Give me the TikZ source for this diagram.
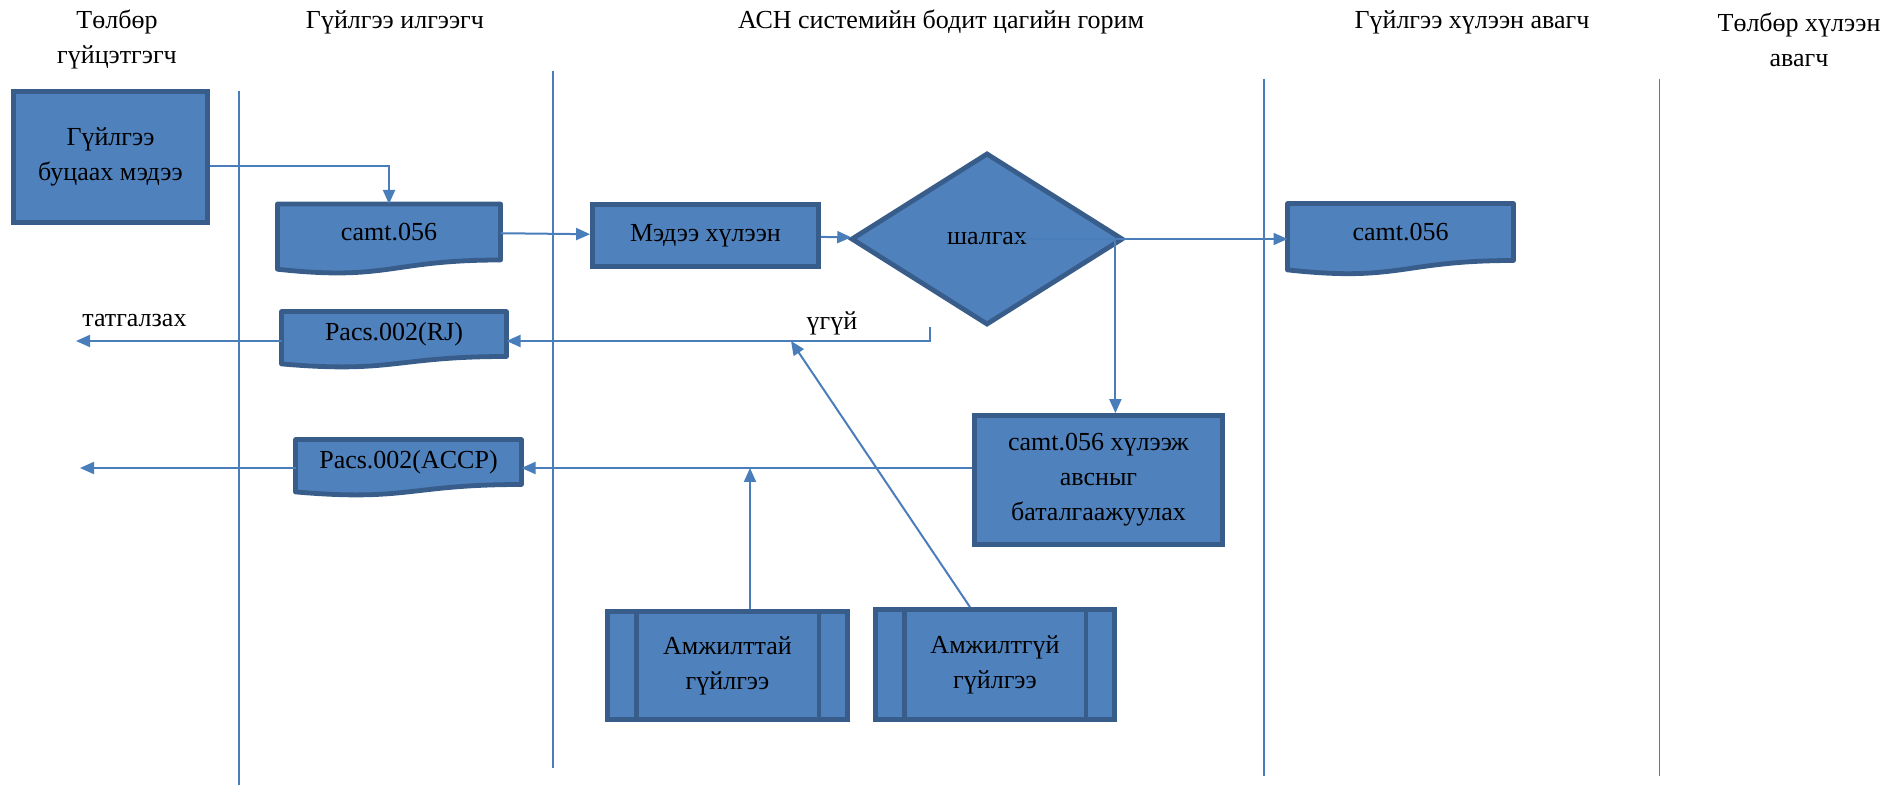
\documentclass[tikz,border=0pt]{standalone}
\usepackage{fontspec}
\setmainfont{Liberation Serif}
\usetikzlibrary{shapes.geometric,arrows.meta,calc,backgrounds}

\definecolor{boxfill}{HTML}{4F81BD}
\definecolor{boxline}{HTML}{385D8A}
\definecolor{linkblue}{HTML}{4A7EBB}

\begin{document}
\begin{tikzpicture}[
  x=0.5pt,
  y=-0.5pt,
  font=\fontsize{13}{17.5}\selectfont,
  box node/.style={
    draw=boxline,
    fill=boxfill,
    line width=2.4pt,
    align=center,
    inner sep=0pt,
  },
  doc node/.style={
    align=center,
    inner sep=0pt,
    outer sep=0pt,
  },
  check node/.style={
    box node,
    diamond,
    aspect=1.6,
  },
  title node/.style={align=center},
  doc outline/.style={draw=boxline,fill=boxfill,line width=2.4pt,line join=round},
  lane line/.style={draw=linkblue,line width=0.9pt},
  ]
  \useasboundingbox (0,0) rectangle (1901,785);
  \foreach \x/\ya/\yb in {239/91/785,553/71/768,1264/79/776,1659.5/79/776}
    \path[lane line] (\x,\ya) -- (\x,\yb);

  \node[title node] (title-payer)    at (117,39.5)  {Төлбөр\\гүйцэтгэгч};
  \node[title node] (title-sender)   at (395,22)    {Гүйлгээ илгээгч};
  \node[title node] (title-ach)      at (941,22)    {АСН системийн бодит цагийн горим};
  \node[title node] (title-receiver) at (1472,22)   {Гүйлгээ хүлээн авагч};
  \node[title node] (title-payee)    at (1799,39.5) {Төлбөр хүлээн\\авагч};

  \node[box node,minimum width=97pt,minimum height=65.5pt]    (refund)        at (110.5,157)   {Гүйлгээ\\буцаах мэдээ};
  \node[doc node,minimum width=111.5pt,minimum height=28pt]   (sender-camt)   at (389,232)     {camt.056};
  \node[box node,minimum width=113pt,minimum height=31pt]     (ach-receive)   at (705.5,235.5) {Мэдээ хүлээн};
  \node[check node,minimum width=136pt,minimum height=86pt]   (ach-check)     at (987,239)     {шалгах};
  \node[doc node,minimum width=113pt,minimum height=28.5pt]   (receiver-camt) at (1400.5,232)  {camt.056};
  \node[doc node,minimum width=112.5pt,minimum height=22.5pt] (sender-rj)     at (394,334)     {Pacs.002(RJ)};
  \node[doc node,minimum width=113pt,minimum height=22.5pt]   (sender-accp)   at (408.5,462)   {Pacs.002(ACCP)};
  \node[box node,minimum width=124pt,minimum height=64.5pt]   (ach-confirm)   at (1098.5,480)  {camt.056 хүлээж\\авсныг\\баталгаажуулах};
  \node[box node,minimum width=120pt,minimum height=54pt]     (ach-ok)        at (727.5,665.5) {Амжилттай\\гүйлгээ};
  \node[box node,minimum width=119.5pt,minimum height=55pt]   (ach-fail)      at (995,664.5)   {Амжилтгүй\\гүйлгээ};

  \begin{scope}[on background layer]
    \foreach \n in {sender-camt,receiver-camt,sender-rj,sender-accp}
      \path[doc outline] (\n.north west) -- (\n.north east) -- (\n.south east)
        .. controls (\n.south) and ($(\n.south)!-0.381!(\n.north)$)
        .. ($(\n.south west)!-0.165!(\n.north west)$) -- cycle;
  \end{scope}
  \foreach \n in {ach-ok,ach-fail}
    \path[draw=boxline,line width=2.4pt]
      ([xshift=15.5pt]\n.north west) -- ([xshift=15.5pt]\n.south west)
      ([xshift=-15.5pt]\n.north east) -- ([xshift=-15.5pt]\n.south east);

  \coordinate (no-start) at (930,327);
  \coordinate (fail-in)  at (791,341);
  \coordinate (rj-out)   at (76,341);
  \coordinate (accp-out) at (80,468);
  \coordinate (check-split) at ($(ach-check.east)+(-10,0)$);
  \coordinate (confirm-out) at ([yshift=6pt]ach-confirm.west);

  \begin{scope}[every path/.style={draw=linkblue,line width=1pt,-{Triangle[length=7pt,width=6pt]}}]
    \path ([yshift=-4.5pt]refund.east) -| (sender-camt);
    \path (sender-camt) -- (ach-receive);
    \path (ach-receive) -- (ach-check);
    \path ($(ach-check.center)+(27,0)$) -- (ach-check.east -| receiver-camt.west);
    \path (check-split) -- (check-split |- ach-confirm.north);
    \path (no-start) |- ([yshift=-3.5pt]sender-rj.east);
    \path ([xshift=-12.5pt]ach-fail.north) -- (fail-in);
    \path (confirm-out) -- (confirm-out -| sender-accp.east);
    \path ([xshift=11.25pt]ach-ok.north) -- ([xshift=11.25pt]ach-ok.north |- confirm-out);
    \path ([yshift=-3.5pt]sender-rj.west) -- (rj-out);
    \path ([yshift=-3pt]sender-accp.west) -- (accp-out);
  \end{scope}

  \node (no-label) at (832,323) {үгүй};
  \node[anchor=west,inner sep=0pt] (reject-label) at (82,321) {татгалзах};
\end{tikzpicture}
\end{document}
